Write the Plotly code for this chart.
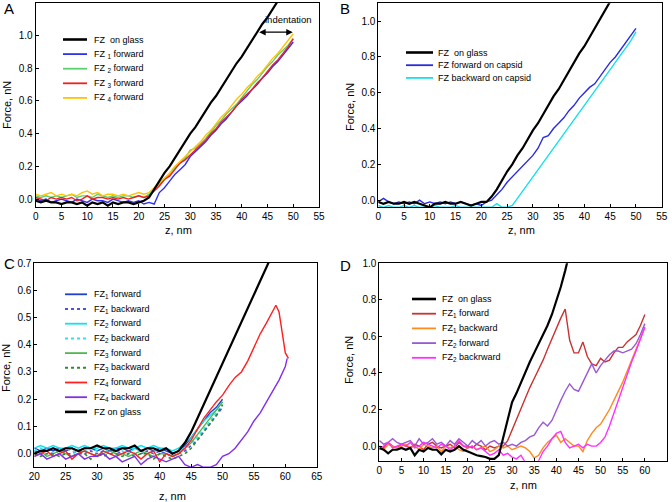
import plotly.graph_objects as go

W, H = 672, 502

# ---------------- Panel A data ----------------
Z_A = list(range(0, 51))
Z_A_GLASS = list(range(0, 48))
A_GLASS = [-0.01, -0.02, -0.01, -0.02, -0.02, -0.03, -0.02, -0.02, -0.03, -0.02, -0.04,
           -0.02, -0.03, -0.02, -0.04, -0.02, -0.03, -0.02, -0.02, -0.03, -0.02, -0.01,
           0.01, 0.06, 0.11, 0.16, 0.20, 0.25, 0.30, 0.35, 0.40, 0.44, 0.49, 0.54, 0.59,
           0.63, 0.68, 0.73, 0.78, 0.83, 0.87, 0.92, 0.97, 1.02, 1.07, 1.11, 1.16, 1.21]
A_FZ1 = [0.0, -0.01, 0.0, -0.02, -0.01, 0.0, -0.01, -0.02, 0.0, -0.01, -0.02, 0.0, -0.01,
         -0.01, -0.02, 0.0, -0.01, -0.02, -0.01, -0.02, -0.01, -0.03,
         -0.02, -0.03, 0.04, 0.07, 0.11, 0.15, 0.18, 0.21, 0.26, 0.29, 0.32, 0.35, 0.39,
         0.42, 0.46, 0.49, 0.53, 0.57, 0.60, 0.63, 0.67, 0.70, 0.74, 0.77, 0.81, 0.84,
         0.88, 0.92, 0.96]
A_FZ2 = [0.02, 0.01, 0.02, 0.01, 0.02, 0.01, 0.02, 0.03, 0.01, 0.02, 0.02, 0.01, 0.03,
         0.02, 0.01, 0.02, 0.01, 0.02, 0.02, 0.01, 0.02, 0.01,
         0.03, 0.06, 0.09, 0.12, 0.15, 0.19, 0.22, 0.25, 0.30, 0.31, 0.34, 0.37, 0.41,
         0.45, 0.48, 0.52, 0.55, 0.58, 0.62, 0.66, 0.70, 0.73, 0.77, 0.81, 0.84, 0.88,
         0.91, 0.94, 0.98]
A_FZ3 = [0.01, 0.0, -0.01, 0.01, 0.0, 0.01, 0.0, 0.01, -0.01, 0.0, 0.02, 0.0, 0.01,
         0.01, 0.0, 0.01, 0.0, 0.01, 0.0, 0.01, 0.02, 0.01,
         0.02, 0.05, 0.08, 0.12, 0.14, 0.18, 0.22, 0.24, 0.27, 0.30, 0.33, 0.36, 0.40,
         0.43, 0.47, 0.50, 0.53, 0.57, 0.61, 0.64, 0.67, 0.71, 0.74, 0.78, 0.82, 0.85,
         0.89, 0.93, 0.98]
A_FZ4 = [0.03, 0.02, 0.03, 0.04, 0.02, 0.03, 0.02, 0.03, 0.02, 0.04, 0.05, 0.03, 0.04,
         0.02, 0.03, 0.03, 0.02, 0.03, 0.02, 0.03, 0.04, 0.03,
         0.04, 0.07, 0.10, 0.13, 0.16, 0.20, 0.23, 0.26, 0.29, 0.32, 0.35, 0.39, 0.42,
         0.46, 0.50, 0.53, 0.57, 0.61, 0.64, 0.68, 0.71, 0.75, 0.78, 0.82, 0.86, 0.89,
         0.93, 0.97, 1.01]

# ---------------- Panel B data ----------------
Z_B = list(range(0, 51))
Z_B_GLASS = list(range(0, 46))
B_GLASS = [-0.01, -0.02, -0.01, -0.02, -0.02, -0.01, -0.02, -0.01, -0.02, -0.03, -0.04,
           -0.02, -0.02, -0.01, -0.02, -0.02, -0.01, -0.02, -0.03, -0.02, -0.01, -0.01,
           0.02, 0.06, 0.11, 0.16, 0.20, 0.25, 0.29, 0.34, 0.39, 0.43, 0.48, 0.53, 0.58,
           0.62, 0.67, 0.72, 0.77, 0.82, 0.86, 0.91, 0.96, 1.01, 1.06, 1.11]
B_FWD = [-0.01, 0.01, -0.01, -0.02, -0.01, -0.02, -0.01, -0.02, 0.0, -0.02, -0.01, -0.02,
         -0.01, -0.02, -0.01, -0.02, -0.01, -0.02, -0.03, -0.02, -0.03, -0.01,
         0.0, 0.03, 0.06, 0.10, 0.13, 0.16, 0.19, 0.22, 0.25, 0.29, 0.35, 0.36, 0.40,
         0.43, 0.46, 0.50, 0.53, 0.57, 0.60, 0.63, 0.65, 0.69, 0.73, 0.77, 0.80, 0.84,
         0.88, 0.92, 0.96]
B_BWD = [-0.03, -0.04, -0.03, -0.04, -0.04, -0.03, -0.04, -0.03, -0.04, -0.04, -0.04,
         -0.03, -0.04, -0.04, -0.04, -0.03, -0.04, -0.04, -0.04, -0.04, -0.04, -0.04,
         -0.04, -0.02, -0.04, -0.04,
         -0.03, 0.01, 0.05, 0.09, 0.13, 0.17, 0.21, 0.25, 0.29, 0.33, 0.37, 0.41, 0.45,
         0.49, 0.53, 0.57, 0.61, 0.65, 0.69, 0.73, 0.77, 0.81, 0.85, 0.89, 0.94]

# ---------------- Panel C data ----------------
Z_C = list(range(20, 51))
Z_C_GLASS = list(range(20, 58)) + [57.5]
C_GLASS = [0.0, 0.01, 0.01, 0.02, 0.01, 0.02, 0.02, 0.01, 0.02, 0.02, 0.03, 0.02, 0.02,
           0.01, 0.02, 0.02, 0.03, 0.01, 0.02, 0.02, 0.01, 0.02, 0.0, 0.01,
           0.04, 0.08, 0.13, 0.18, 0.23, 0.28, 0.33, 0.38, 0.43, 0.48, 0.53, 0.58, 0.63,
           0.68, 0.71]
Z_C_FZ4F = list(range(20, 59)) + [58.5, 59, 59.5, 60, 60.5]
C_FZ4F = [-0.01, 0.0, 0.01, -0.01, 0.0, 0.01, -0.02, 0.0, 0.01, 0.0, -0.01, 0.01, 0.0,
          -0.01, 0.0, 0.01, 0.0, -0.02, 0.0, 0.01, -0.03, 0.0, -0.01, 0.0,
          0.02, 0.05, 0.09, 0.13, 0.16, 0.19, 0.215, 0.25, 0.28, 0.30, 0.34, 0.39, 0.44,
          0.48, 0.52, 0.545, 0.52, 0.45, 0.37, 0.35]
Z_C_FZ4B = list(range(20, 61)) + [60.3]
C_FZ4B = [-0.01, 0.0, -0.02, -0.01, 0.0, -0.02, -0.01, 0.0, -0.02, -0.01, -0.01, 0.0,
          -0.02, -0.01, -0.03, -0.02, -0.01, -0.04, -0.02, -0.01, -0.02, -0.03, -0.02,
          -0.01,
          -0.04, -0.05, -0.04, -0.05, -0.05, -0.04, -0.01, 0.0, 0.02, 0.05, 0.08, 0.12,
          0.15, 0.19, 0.23, 0.27, 0.32, 0.35]
C_FZ1F = [0.02, 0.01, 0.02, 0.01, 0.02, 0.01, 0.02, 0.01, 0.02, 0.02, 0.01, 0.02, 0.01,
          0.02, 0.02, 0.01, 0.02, 0.01, 0.02, 0.01, 0.02, 0.01, 0.0, 0.01,
          0.03, 0.06, 0.09, 0.12, 0.15, 0.17, 0.20]
C_FZ1B = [0.01, 0.0, 0.01, 0.0, 0.01, 0.0, 0.0, 0.01, 0.0, 0.01, 0.0, 0.01, 0.0, 0.01,
          0.0, 0.01, 0.0, 0.0, 0.01, 0.0, 0.01, 0.0, -0.01, 0.0,
          0.01, 0.03, 0.05, 0.08, 0.11, 0.14, 0.17]
C_FZ2F = [0.02, 0.03, 0.02, 0.03, 0.02, 0.02, 0.03, 0.02, 0.03, 0.02, 0.02, 0.03, 0.02,
          0.02, 0.03, 0.02, 0.02, 0.03, 0.02, 0.03, 0.02, 0.02, 0.01, 0.02,
          0.04, 0.06, 0.09, 0.12, 0.14, 0.16, 0.19]
C_FZ2B = [0.01, 0.02, 0.01, 0.0, 0.01, 0.02, 0.01, 0.0, 0.01, 0.02, 0.01, 0.0, 0.02,
          0.01, 0.01, 0.0, 0.02, 0.01, 0.0, 0.01, 0.01, 0.0, 0.0, 0.01,
          0.02, 0.04, 0.06, 0.09, 0.12, 0.15, 0.18]
C_FZ3F = [0.0, 0.01, -0.01, 0.0, 0.01, 0.0, -0.01, 0.0, 0.01, 0.0, -0.01, 0.0, 0.01,
          0.0, 0.0, -0.01, 0.0, 0.01, 0.0, -0.01, 0.0, 0.0, -0.01, 0.0,
          0.02, 0.04, 0.07, 0.10, 0.13, 0.16, 0.19]
C_FZ3B = [0.0, -0.01, 0.0, 0.0, -0.01, 0.0, -0.01, 0.0, 0.0, -0.02, 0.0, -0.01, 0.0,
          0.0, -0.01, 0.0, -0.01, 0.0, 0.0, -0.02, 0.0, -0.01, -0.02, -0.01,
          0.0, 0.02, 0.05, 0.08, 0.11, 0.14, 0.18]

# ---------------- Panel D data ----------------
Z_D = list(range(0, 61))
Z_D_GLASS = list(range(0, 43)) + [42.5]
D_GLASS = [-0.01, -0.02, -0.04, -0.02, -0.02, -0.01, -0.02, -0.01, -0.05, -0.02, -0.03,
           -0.01, -0.02, -0.02, -0.045, -0.02, -0.03, -0.02, 0.0, -0.02, -0.03, -0.04,
           -0.05, -0.055, -0.06, -0.07, -0.07,
           -0.05, 0.05, 0.15, 0.24, 0.29, 0.35, 0.41, 0.46, 0.51, 0.56, 0.61, 0.66, 0.72,
           0.79, 0.87, 0.96, 1.01]
D_FZ1F = [0.0, -0.01, 0.02, 0.0, -0.01, 0.01, 0.0, -0.01, 0.01, 0.0, -0.02, 0.01, 0.02,
          0.0, -0.01, 0.0, 0.01, -0.01, 0.02, 0.0, 0.0, -0.01, 0.01, 0.0, -0.02, 0.0,
          -0.01, 0.0,
          0.0, 0.03, 0.09, 0.15, 0.21, 0.27, 0.32, 0.37, 0.42, 0.47, 0.53, 0.59, 0.65,
          0.70, 0.75, 0.58, 0.51, 0.51, 0.57, 0.49, 0.45, 0.44, 0.48, 0.46, 0.47, 0.51,
          0.54, 0.54, 0.57, 0.59, 0.61, 0.66, 0.72]
D_FZ1B = [0.0, -0.02, 0.01, 0.0, -0.01, 0.0, 0.01, -0.01, 0.0, -0.02, 0.01, 0.0, -0.01,
          0.0, -0.03, 0.0, -0.01, 0.0, -0.02, -0.03, -0.01, 0.0, -0.02, -0.01, 0.0,
          -0.03, -0.02, 0.0, -0.01, 0.0, -0.02, -0.01, 0.0, -0.01,
          -0.03, -0.065, -0.05, -0.01, 0.02, 0.04, 0.06, 0.02, 0.04, 0.02, 0.0, 0.0,
          -0.03, 0.03, 0.07, 0.10, 0.12, 0.16, 0.20, 0.25, 0.30, 0.35, 0.41, 0.47, 0.53,
          0.59, 0.65]
D_FZ2F = [0.03, 0.01, 0.02, 0.04, 0.02, 0.01, 0.02, 0.03, 0.0, 0.04, 0.01, 0.02, 0.04,
          0.01, 0.02, 0.0, 0.03, 0.01, 0.04, 0.02, 0.0, 0.03, 0.01, 0.03, 0.0, 0.02,
          0.03, 0.01, 0.02, 0.0,
          0.01, 0.0, 0.02, 0.03, 0.05, 0.06, 0.10, 0.13, 0.11, 0.14, 0.20, 0.25, 0.30,
          0.34, 0.31, 0.30, 0.35, 0.40, 0.45, 0.40, 0.44, 0.47, 0.50, 0.52, 0.52, 0.51,
          0.52, 0.53, 0.56, 0.61, 0.67]
D_FZ2B = [-0.02, 0.0, 0.02, -0.01, 0.0, 0.01, 0.0, 0.02, -0.01, 0.0, 0.02, 0.01, 0.0,
          -0.01, 0.01, 0.0, -0.02, 0.0, 0.03, 0.0, -0.01, 0.0, -0.02, -0.01, -0.03,
          -0.05, -0.04, -0.02,
          -0.05, -0.04, -0.06, -0.07, -0.05, -0.09, -0.10, -0.11, -0.08, -0.03, 0.0,
          0.04, 0.07, 0.08, 0.02, -0.01, 0.0, 0.01, -0.01, 0.01, 0.0, 0.0, 0.02, 0.05,
          0.11, 0.18, 0.26, 0.33, 0.40, 0.46, 0.52, 0.58, 0.65]

# ---------------- styling ----------------
FONT = "Liberation Sans, Arial, Helvetica, sans-serif"
X_TITLE = "z, nm"
Y_TITLE = "Force, nN"


def px_x(p):
    return p / W


def px_y(p):
    return 1 - p / H


panels = {
    "A": dict(ax="", dom_x=(35.7, 319.0), dom_y=(2.7, 207.3), xr=[0, 55], yr=[-0.05, 1.2],
              xt=list(range(0, 60, 5)), yt=[0.0, 0.2, 0.4, 0.6, 0.8, 1.0, 1.2],
              ytitle=(7, 105), xtitle=(178, 230)),
    "B": dict(ax="2", dom_x=(378.3, 661.7), dom_y=(3.3, 207.3), xr=[0, 55], yr=[-0.04, 1.1],
              xt=list(range(0, 60, 5)), yt=[0.0, 0.2, 0.4, 0.6, 0.8, 1.0],
              ytitle=(350, 107), xtitle=(521, 230)),
    "C": dict(ax="3", dom_x=(34.3, 316.7), dom_y=(263.0, 467.3), xr=[20, 65], yr=[-0.05, 0.7],
              xt=list(range(20, 70, 5)), yt=[0.0, 0.1, 0.2, 0.3, 0.4, 0.5, 0.6, 0.7],
              ytitle=(6, 368), xtitle=(173, 496)),
    "D": dict(ax="4", dom_x=(379.3, 667.0), dom_y=(263.3, 460.7), xr=[0, 65], yr=[-0.08, 1.0],
              xt=list(range(0, 70, 5)), yt=[0.0, 0.2, 0.4, 0.6, 0.8, 1.0],
              ytitle=(349, 360), xtitle=(523, 485)),
}

series = {
    "A": [
        ("FZ  on glass", Z_A_GLASS, A_GLASS, "#000000", 2.2, "solid"),
        ("FZ <sub>1</sub> forward", Z_A, A_FZ1, "#3030f0", 1.4, "solid"),
        ("FZ <sub>2</sub> forward", Z_A, A_FZ2, "#5ccf70", 1.4, "solid"),
        ("FZ <sub>3</sub> forward", Z_A, A_FZ3, "#f02020", 1.4, "solid"),
        ("FZ <sub>4</sub> forward", Z_A, A_FZ4, "#ffc400", 1.4, "solid"),
    ],
    "B": [
        ("FZ  on glass", Z_B_GLASS, B_GLASS, "#000000", 2.2, "solid"),
        ("FZ forward on capsid", Z_B, B_FWD, "#2a2ae0", 1.4, "solid"),
        ("FZ backward on capsid", Z_B, B_BWD, "#18e0ea", 1.4, "solid"),
    ],
    "C": [
        ("FZ<sub>1</sub> forward", Z_C, C_FZ1F, "#2040d0", 1.4, "solid"),
        ("FZ<sub>1</sub> backward", Z_C, C_FZ1B, "#5050e0", 1.6, "dot"),
        ("FZ<sub>2</sub> forward", Z_C, C_FZ2F, "#10e0f0", 1.4, "solid"),
        ("FZ<sub>2</sub> backward", Z_C, C_FZ2B, "#30e0f0", 1.6, "dot"),
        ("FZ<sub>3</sub> forward", Z_C, C_FZ3F, "#50b850", 1.4, "solid"),
        ("FZ<sub>3</sub> backward", Z_C, C_FZ3B, "#308a30", 1.6, "dot"),
        ("FZ<sub>4</sub> forward", Z_C_FZ4F, C_FZ4F, "#ff2020", 1.4, "solid"),
        ("FZ<sub>4</sub> backward", Z_C_FZ4B, C_FZ4B, "#8030e8", 1.4, "solid"),
        ("FZ on glass", Z_C_GLASS, C_GLASS, "#000000", 2.2, "solid"),
    ],
    "D": [
        ("FZ  on glass", Z_D_GLASS, D_GLASS, "#000000", 2.2, "solid"),
        ("FZ<sub>1</sub> forward", Z_D, D_FZ1F, "#c83232", 1.4, "solid"),
        ("FZ<sub>1</sub> backward", Z_D, D_FZ1B, "#ff8a1e", 1.4, "solid"),
        ("FZ<sub>2</sub> forward", Z_D, D_FZ2F, "#9a58d4", 1.4, "solid"),
        ("FZ<sub>2</sub> backrward", Z_D, D_FZ2B, "#ff30ff", 1.4, "solid"),
    ],
}

# legend geometry (pixels): line x0, x1, text x, first row y, row step
legend_geom = {
    "A": (63, 87, 92, 39.5, 14.6),
    "B": (406, 433, 436, 52.5, 12.7),
    "C": (65, 87, 92, 294.3, 14.7),
    "D": (412, 436, 440, 299.0, 14.7),
}

letters = {"A": (2, 9), "B": (338, 9), "C": (2, 263), "D": (338, 265)}

fig = go.Figure()
for key, sers in series.items():
    p = panels[key]
    order = sers if key == "C" else sers[1:] + sers[:1]
    for name, zx, fy, col, lw, dash in order:
        fig.add_trace(go.Scatter(
            x=zx, y=fy, mode="lines", name=name, showlegend=False,
            line=dict(color=col, width=lw, dash=dash),
            xaxis="x" + p["ax"], yaxis="y" + p["ax"], hoverinfo="skip"))

layout = dict(width=W, height=H, margin=dict(l=0, r=0, t=0, b=0),
              template="none",
              paper_bgcolor="white", plot_bgcolor="white",
              font=dict(family=FONT, size=10, color="black"), showlegend=False)
shapes, annotations = [], []
for key, p in panels.items():
    ax = p["ax"]
    xa = dict(domain=[px_x(p["dom_x"][0]), px_x(p["dom_x"][1])], range=p["xr"],
              tickvals=p["xt"], ticks="inside", ticklen=3, tickcolor="black",
              showline=True, mirror=True, linecolor="black", linewidth=1,
              showgrid=False, zeroline=False, anchor="y" + ax, automargin=False,
              tickfont=dict(size=10))
    ya = dict(domain=[px_y(p["dom_y"][1]), px_y(p["dom_y"][0])], range=p["yr"],
              tickvals=p["yt"], tickformat=".1f", ticks="inside", ticklen=3,
              tickcolor="black", showline=True, mirror=True, linecolor="black",
              linewidth=1, showgrid=False, zeroline=False, anchor="x" + ax,
              automargin=False, tickfont=dict(size=10))
    layout["xaxis" + ax] = xa
    layout["yaxis" + ax] = ya

    # axis titles
    tx_, ty_ = p["xtitle"]
    annotations.append(dict(xref="paper", yref="paper", x=px_x(tx_), y=px_y(ty_),
                            text=X_TITLE, showarrow=False, xanchor="center",
                            yanchor="middle", font=dict(size=11)))
    tx_, ty_ = p["ytitle"]
    annotations.append(dict(xref="paper", yref="paper", x=px_x(tx_), y=px_y(ty_),
                            text=Y_TITLE, showarrow=False, xanchor="center",
                            yanchor="middle", textangle=-90, font=dict(size=11)))

    lx0, lx1, tx, y0, dy = legend_geom[key]
    for i, (name, zx, fy, col, lw, dash) in enumerate(series[key]):
        yy = y0 + i * dy
        shapes.append(dict(type="line", xref="paper", yref="paper",
                           x0=px_x(lx0), x1=px_x(lx1), y0=px_y(yy), y1=px_y(yy),
                           line=dict(color=col, width=lw + 0.4, dash=dash)))
        annotations.append(dict(xref="paper", yref="paper", x=px_x(tx), y=px_y(yy),
                                text=name, showarrow=False, xanchor="left",
                                yanchor="middle", font=dict(size=9)))
    lx, ly = letters[key]
    annotations.append(dict(xref="paper", yref="paper", x=px_x(lx), y=px_y(ly),
                            text=key, showarrow=False, xanchor="left",
                            yanchor="middle", font=dict(size=15)))

# indentation arrow (panel A)
annotations.append(dict(xref="x", yref="y", axref="x", ayref="y", x=49.9, y=1.02,
                        ax=43.1, ay=1.02, text="", showarrow=True, arrowhead=2,
                        arrowside="end+start", arrowsize=1, arrowwidth=1.3,
                        arrowcolor="black"))
annotations.append(dict(xref="x", yref="y", x=49.0, y=1.098, text="indentation",
                        showarrow=False, font=dict(size=9.5)))

layout["shapes"] = shapes
layout["annotations"] = annotations
fig.update_layout(**layout)
fig.write_html("out.html",
               config={"displayModeBar": False},
               post_script="document.body.style.margin='0';"
                           "document.body.style.padding='0';"
                           "document.body.style.overflow='hidden';")
